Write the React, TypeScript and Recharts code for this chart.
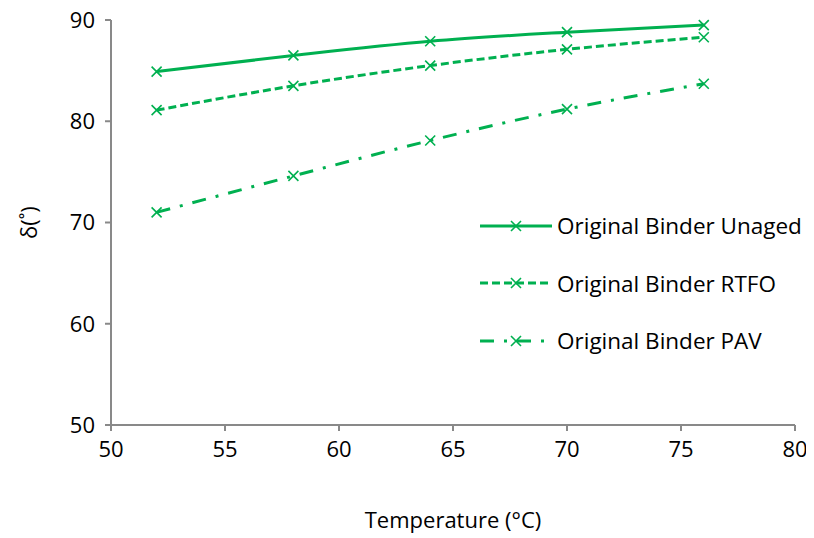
import { LineChart, Line, XAxis, YAxis, Label } from "recharts";

const temperatures = [52, 58, 64, 70, 76];
const unaged = [84.9, 86.5, 87.9, 88.8, 89.5];
const rtfo = [81.1, 83.5, 85.5, 87.1, 88.3];
const pav = [71.0, 74.6, 78.1, 81.2, 83.7];
const xTicks = [50, 55, 60, 65, 70, 75, 80];
const yTicks = [50, 60, 70, 80, 90];

const data = temperatures.map((t, i) => ({
  t,
  unaged: unaged[i],
  rtfo: rtfo[i],
  pav: pav[i],
}));

const GREEN = "#00B050";
const AXIS = "#898989";
const FONT = "'Open Sans', 'Liberation Sans', sans-serif";

const series = [
  { key: "unaged", name: "Original Binder Unaged", dash: undefined },
  { key: "rtfo", name: "Original Binder RTFO", dash: "8 4" },
  { key: "pav", name: "Original Binder PAV", dash: "14 10 3 10" },
];

const Cross = (props: any) => {
  const { cx, cy } = props;
  if (cx == null || cy == null) return null;
  const s = 5;
  return (
    <path
      d={`M${cx - s},${cy - s}L${cx + s},${cy + s}M${cx - s},${cy + s}L${cx + s},${cy - s}`}
      stroke={GREEN}
      strokeWidth={1.6}
      fill="none"
    />
  );
};

const LegendBox = () => (
  <div
    style={{
      position: "absolute",
      left: 478,
      top: 197,
      fontFamily: FONT,
      fontSize: 22.5,
      color: "#000",
    }}
  >
    {series.map((s) => (
      <div key={s.key} style={{ display: "flex", alignItems: "center", height: 57.5 }}>
        <svg width={76} height={20}>
          <line x1={2} y1={10} x2={74} y2={10} stroke={GREEN} strokeWidth={3} strokeDasharray={s.dash} />
          <path d="M33,5L43,15M33,15L43,5" stroke={GREEN} strokeWidth={1.6} />
        </svg>
        <span style={{ marginLeft: 3, whiteSpace: "nowrap" }}>{s.name}</span>
      </div>
    ))}
  </div>
);

export default function App() {
  return (
    <div style={{ position: "relative", width: 814, height: 538, margin: "-8px 0 0 -8px" }}>
      <LineChart
        width={814}
        height={538}
        data={data}
        margin={{ top: 20, right: 19, left: 41, bottom: 0 }}
        style={{ fontFamily: FONT }}
      >
        <XAxis
          dataKey="t"
          type="number"
          domain={[50, 80]}
          ticks={xTicks}
          height={113}
          stroke={AXIS}
          strokeWidth={2}
          tickSize={6}
          tick={{ fill: "#000", fontSize: 22, dy: 8 }}
        >
          <Label value="Temperature (°C)" position="insideBottom" offset={10} style={{ fill: "#000", fontSize: 22 }} />
        </XAxis>
        <YAxis
          type="number"
          domain={[50, 90]}
          ticks={yTicks}
          width={70}
          stroke={AXIS}
          strokeWidth={2}
          tickSize={6}
          tick={{ fill: "#000", fontSize: 22, dx: -8 }}
        >
          <Label value="δ(˚)" angle={-90} position="insideLeft" offset={-12} style={{ fill: "#000", fontSize: 22, textAnchor: "middle" }} />
        </YAxis>
        {series.map((s) => (
          <Line
            key={s.key}
            dataKey={s.key}
            name={s.name}
            type="monotone"
            stroke={GREEN}
            strokeWidth={3}
            strokeDasharray={s.dash}
            dot={<Cross />}
            activeDot={false}
            isAnimationActive={false}
          />
        ))}
      </LineChart>
      <LegendBox />
    </div>
  );
}
